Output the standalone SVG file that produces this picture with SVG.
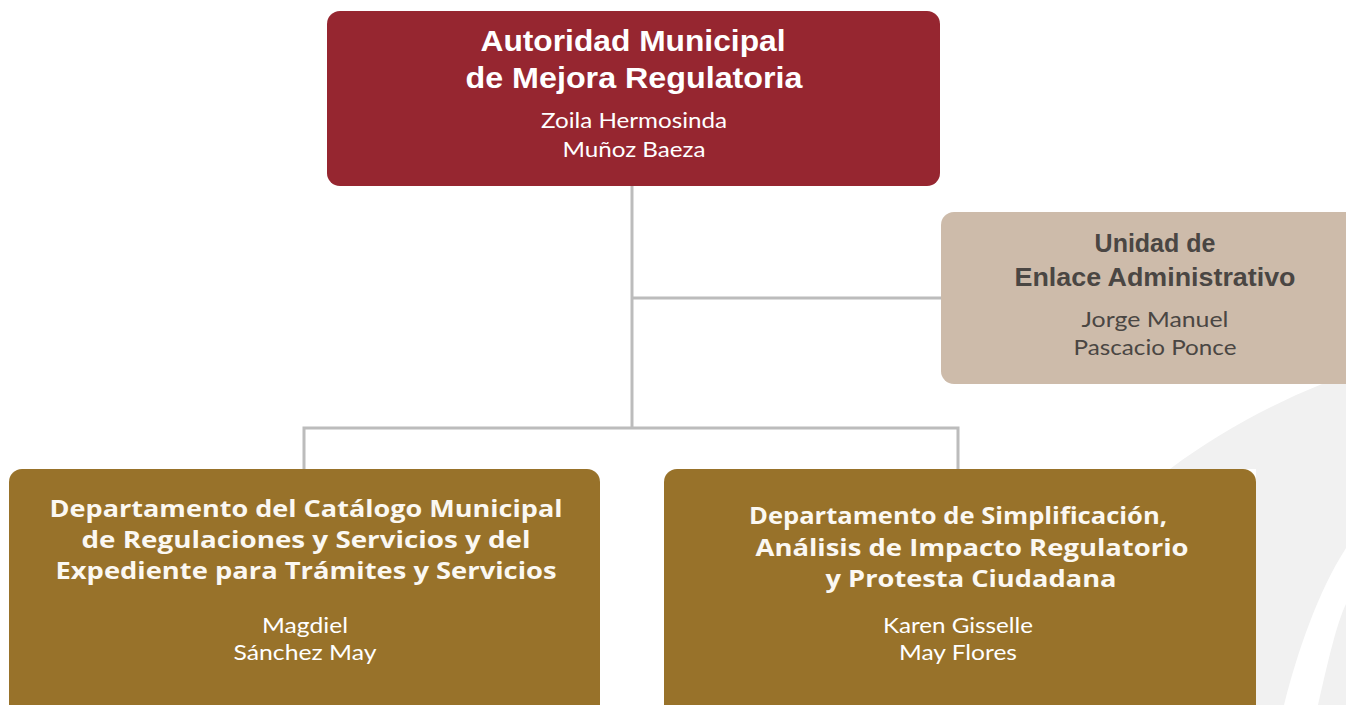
<svg xmlns="http://www.w3.org/2000/svg" width="1346" height="705" viewBox="0 0 1346 705">
<style>
.title{font-family:"Liberation Sans",Arial,sans-serif;font-weight:700;text-anchor:middle}
.dept{font-family:"Open Sans","Noto Sans",sans-serif;font-weight:700;font-size:24px;fill:#fbf8f2;text-anchor:middle}
.name{font-family:Lato,"Open Sans",sans-serif;font-size:22px;text-anchor:middle}
.conn{stroke:#bcbcbc;stroke-width:3;fill:none}
</style>
<rect width="1346" height="705" fill="#ffffff"/>
<g id="background">
<path d="M1346,384 L1322,384 C1270,405 1215,435 1170,469 L1346,469 Z" fill="#f1f1f1"/>
<path d="M1256,469 L1346,469 L1346,705 L1256,705 Z" fill="#f1f1f1"/>
<path d="M1346,548 C1318,592 1298,650 1284,705 L1318,705 C1328,662 1336,625 1346,604 Z" fill="#ffffff"/>
</g>
<g id="connectors">
<path class="conn" d="M632,186 V428"/>
<path class="conn" d="M632,298 H941"/>
<path class="conn" d="M304,469 V428 H958 V469"/>
</g>
<g id="node-autoridad">
<rect x="327" y="11" width="613" height="175" rx="13" fill="#962630"/>
<text class="title" x="633" y="51" font-size="30" fill="#ffffff" textLength="305" lengthAdjust="spacingAndGlyphs">Autoridad Municipal</text>
<text class="title" x="634" y="88" font-size="30" fill="#ffffff" textLength="337" lengthAdjust="spacingAndGlyphs">de Mejora Regulatoria</text>
<text class="name" x="634" y="128" fill="#ffffff" textLength="186" lengthAdjust="spacingAndGlyphs">Zoila Hermosinda</text>
<text class="name" x="634" y="157" fill="#ffffff" textLength="143" lengthAdjust="spacingAndGlyphs">Muñoz Baeza</text>
</g>
<g id="node-enlace">
<rect x="941" y="212" width="420" height="172" rx="13" fill="#cdbbaa"/>
<text class="title" x="1155" y="252" font-size="25" fill="#4a4643">Unidad de</text>
<text class="title" x="1155" y="286" font-size="25" fill="#4a4643" textLength="281" lengthAdjust="spacingAndGlyphs">Enlace Administrativo</text>
<text class="name" x="1155" y="327" fill="#4a4643" textLength="147" lengthAdjust="spacingAndGlyphs">Jorge Manuel</text>
<text class="name" x="1155" y="355" fill="#4a4643" textLength="163" lengthAdjust="spacingAndGlyphs">Pascacio Ponce</text>
</g>
<g id="node-catalogo">
<rect x="9" y="469" width="591" height="250" rx="13" fill="#98722a"/>
<text class="dept" x="306" y="517" textLength="513" lengthAdjust="spacingAndGlyphs">Departamento del Catálogo Municipal</text>
<text class="dept" x="306" y="548" textLength="449" lengthAdjust="spacingAndGlyphs">de Regulaciones y Servicios y del</text>
<text class="dept" x="306" y="579" textLength="501" lengthAdjust="spacingAndGlyphs">Expediente para Trámites y Servicios</text>
<text class="name" x="305" y="633" fill="#ffffff" textLength="86" lengthAdjust="spacingAndGlyphs">Magdiel</text>
<text class="name" x="305" y="660" fill="#ffffff" textLength="143" lengthAdjust="spacingAndGlyphs">Sánchez May</text>
</g>
<g id="node-simplificacion">
<rect x="664" y="469" width="592" height="250" rx="13" fill="#98722a"/>
<text class="dept" x="958" y="524" textLength="418" lengthAdjust="spacingAndGlyphs">Departamento de Simplificación,</text>
<text class="dept" x="972" y="556" textLength="433" lengthAdjust="spacingAndGlyphs">Análisis de Impacto Regulatorio</text>
<text class="dept" x="971" y="587" textLength="291" lengthAdjust="spacingAndGlyphs">y Protesta Ciudadana</text>
<text class="name" x="958" y="633" fill="#ffffff" textLength="150" lengthAdjust="spacingAndGlyphs">Karen Gisselle</text>
<text class="name" x="958" y="660" fill="#ffffff" textLength="118" lengthAdjust="spacingAndGlyphs">May Flores</text>
</g>
</svg>
